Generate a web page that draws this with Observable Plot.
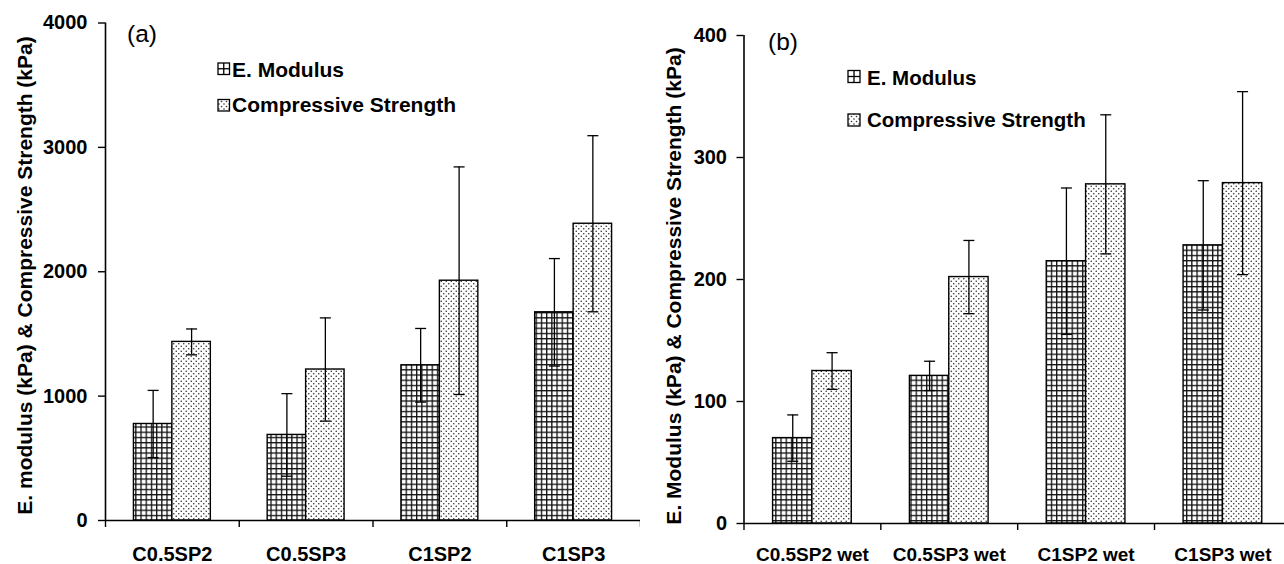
<!DOCTYPE html>
<html>
<head>
<meta charset="utf-8">
<script src="https://cdn.jsdelivr.net/npm/d3@7"></script>
<script src="https://cdn.jsdelivr.net/npm/@observablehq/plot@0.6"></script>
<style>
  html, body { margin: 0; padding: 0; background: #fff; }
  #wrap { position: relative; width: 1284px; height: 564px; overflow: hidden; background: #fff; }
  #wrap > svg.panel { position: absolute; top: 0; }
  #overlay { position: absolute; left: 0; top: 0; pointer-events: none; }
  #overlay text { font-family: "Liberation Sans", Arial, sans-serif; fill: #000; }
</style>
</head>
<body>
<div id="wrap"></div>
<script>
// ---------- data ----------
const categoriesA = ["C0.5SP2", "C0.5SP3", "C1SP2", "C1SP3"];
const eModulusA = [776, 688, 1248, 1674];
const eModulusSdA = [270, 332, 296, 432];
const compStrengthA = [1436, 1214, 1928, 2386];
const compStrengthSdA = [104, 415, 915, 708];
const yTicksA = [0, 1000, 2000, 3000, 4000];

const categoriesB = ["C0.5SP2 wet", "C0.5SP3 wet", "C1SP2 wet", "C1SP3 wet"];
const eModulusB = [70, 121, 215, 228];
const eModulusSdB = [19, 12, 60, 53];
const compStrengthB = [125, 202, 278, 279];
const compStrengthSdB = [15, 30, 57, 75];
const yTicksB = [0, 100, 200, 300, 400];

const seriesNames = ["E. Modulus", "Compressive Strength"];
const yTitleA = "E. modulus (kPa) & Compressive Strength (kPa)";
const yTitleB = "E. Modulus (kPa) & Compressive Strength (kPa)";

// ---------- helpers ----------
const FONT = "'Liberation Sans', Arial, Helvetica, sans-serif";
const wrap = document.getElementById("wrap");

function addPatterns(svg, id) {
  const defs = d3.select(svg).insert("defs", ":first-child");
  const g = defs.append("pattern").attr("id", "grid-" + id)
    .attr("patternUnits", "userSpaceOnUse").attr("width", 5.2).attr("height", 5.2);
  g.append("rect").attr("width", 5.2).attr("height", 5.2).attr("fill", "#fff");
  g.append("rect").attr("x", 0).attr("y", 0).attr("width", 1.3).attr("height", 5.2).attr("fill", "#111");
  g.append("rect").attr("x", 0).attr("y", 0).attr("width", 5.2).attr("height", 1.3).attr("fill", "#111");
  const p = defs.append("pattern").attr("id", "dots-" + id)
    .attr("patternUnits", "userSpaceOnUse").attr("width", 5).attr("height", 5);
  p.append("rect").attr("width", 5).attr("height", 5).attr("fill", "#fff");
  p.append("circle").attr("cx", 1.25).attr("cy", 1.25).attr("r", 0.8).attr("fill", "#333");
  p.append("circle").attr("cx", 3.75).attr("cy", 3.75).attr("r", 0.8).attr("fill", "#333");
}

const cap = { draw(ctx) { ctx.moveTo(-5.5, 0); ctx.lineTo(5.5, 0); } };

function panel(cfg) {
  const hw = 0.2875; // half of a group's width, in category units
  const rows = cfg.categories.flatMap((cat, i) => [
    { i, cat, series: seriesNames[0], value: cfg.e[i], sd: cfg.eSd[i], x1: i - hw, x2: i, xc: i - hw / 2 },
    { i, cat, series: seriesNames[1], value: cfg.c[i], sd: cfg.cSd[i], x1: i, x2: i + hw, xc: i + hw / 2 }
  ]);
  const eRows = rows.filter(d => d.series === seriesNames[0]);
  const cRows = rows.filter(d => d.series === seriesNames[1]);
  const idx = cfg.categories.map((_, i) => i);
  const bounds = cfg.categories.map((_, i) => i - 0.5).concat(cfg.xDomain[1] >= cfg.categories.length - 0.5 ? [cfg.categories.length - 0.5] : []);
  const svg = Plot.plot({
    width: cfg.width,
    height: 564,
    marginLeft: cfg.marginLeft,
    marginRight: 0,
    marginTop: cfg.marginTop,
    marginBottom: cfg.marginBottom,
    x: { type: "linear", domain: cfg.xDomain },
    y: { domain: [0, cfg.yTicks[cfg.yTicks.length - 1]] },
    style: { fontFamily: FONT, fontSize: "20px", fontWeight: "bold", color: "#000", background: "#fff", overflow: "visible" },
    marks: [
      Plot.rect(eRows, { x1: "x1", x2: "x2", y1: () => 0, y2: "value", fill: `url(#grid-${cfg.id})`, stroke: "#000", strokeWidth: 1.4 }),
      Plot.rect(cRows, { x1: "x1", x2: "x2", y1: () => 0, y2: "value", fill: `url(#dots-${cfg.id})`, stroke: "#000", strokeWidth: 1.4 }),
      Plot.ruleX(rows, { x: "xc", y1: d => d.value - d.sd, y2: d => d.value + d.sd, stroke: "#000", strokeWidth: 1.3 }),
      Plot.dot(rows, { x: "xc", y: d => d.value + d.sd, symbol: cap, r: 3, stroke: "#000", strokeWidth: 1.3, fill: "none" }),
      Plot.dot(rows, { x: "xc", y: d => d.value - d.sd, symbol: cap, r: 3, stroke: "#000", strokeWidth: 1.3, fill: "none" }),
      Plot.ruleY([0], { stroke: "#000", strokeWidth: 1.6 }),
      Plot.ruleX([cfg.xDomain[0]], { stroke: "#000", strokeWidth: 1.6 }),
      Plot.axisY({ ticks: cfg.yTicks, tickSize: 7, tickPadding: cfg.yPad, tickFormat: d => String(d), label: null, strokeWidth: 1.4, fontSize: 20 }),
      Plot.axisX({ ticks: idx, tickSize: 0, tickPadding: cfg.xPad, tickFormat: i => cfg.categories[i], label: null, fontSize: cfg.xFont }),
      Plot.axisX({ ticks: bounds, tickSize: 7, tickFormat: () => "", label: null, strokeWidth: 1.4 })
    ]
  });
  addPatterns(svg, cfg.id);
  svg.classList.add("panel");
  svg.style.left = cfg.left + "px";
  wrap.appendChild(svg);
}

panel({
  id: "a", left: 0, width: 640, marginLeft: 105, marginTop: 22.5, marginBottom: 44,
  xDomain: [-0.5, 3.5], categories: categoriesA, e: eModulusA, eSd: eModulusSdA,
  c: compStrengthA, cSd: compStrengthSdA, yTicks: yTicksA, yPad: 11, xPad: 26, xFont: 20
});
panel({
  id: "b", left: 640, width: 644, marginLeft: 103.5, marginTop: 35, marginBottom: 41,
  xDomain: [-0.5, 3.45], categories: categoriesB, e: eModulusB, eSd: eModulusSdB,
  c: compStrengthB, cSd: compStrengthSdB, yTicks: yTicksB, yPad: 10, xPad: 24, xFont: 19
});

// ---------- overlay: panel letters, in-plot legends, rotated y titles ----------
const ov = d3.select(wrap).append("svg").attr("id", "overlay").attr("width", 1284).attr("height", 564);
const defs = ov.append("defs");
const gp = defs.append("pattern").attr("id", "dots-legend").attr("patternUnits", "userSpaceOnUse").attr("width", 5).attr("height", 5);
gp.append("rect").attr("width", 5).attr("height", 5).attr("fill", "#fff");
gp.append("circle").attr("cx", 1.5).attr("cy", 1.5).attr("r", 0.8).attr("fill", "#333");
gp.append("circle").attr("cx", 4).attr("cy", 4).attr("r", 0.8).attr("fill", "#333");

function legend(x, y1, y2, size, tx, fs) {
  // grid swatch
  ov.append("rect").attr("x", x).attr("y", y1).attr("width", size).attr("height", size).attr("fill", "#fff").attr("stroke", "#000").attr("stroke-width", 1.3);
  ov.append("line").attr("x1", x + size / 2).attr("x2", x + size / 2).attr("y1", y1).attr("y2", y1 + size).attr("stroke", "#000").attr("stroke-width", 1.3);
  ov.append("line").attr("x1", x).attr("x2", x + size).attr("y1", y1 + size / 2).attr("y2", y1 + size / 2).attr("stroke", "#000").attr("stroke-width", 1.3);
  ov.append("text").attr("x", tx).attr("y", y1 + size + 2).attr("font-size", fs).attr("font-weight", "bold").text(seriesNames[0]);
  // dotted swatch
  ov.append("rect").attr("x", x).attr("y", y2).attr("width", size).attr("height", size).attr("fill", "url(#dots-legend)").attr("stroke", "#000").attr("stroke-width", 1.3);
  ov.append("text").attr("x", tx).attr("y", y2 + size + 1).attr("font-size", fs).attr("font-weight", "bold").text(seriesNames[1]);
}
legend(218, 63, 99.5, 11.5, 232, 21);
legend(848, 70.5, 114, 12, 867, 20.5);

ov.append("text").attr("x", 127).attr("y", 42).attr("font-size", 24.5).text("(a)");
ov.append("text").attr("x", 768).attr("y", 50).attr("font-size", 24.5).text("(b)");

ov.append("text").attr("transform", "translate(32,275.5) rotate(-90)").attr("text-anchor", "middle")
  .attr("font-size", 21).attr("font-weight", "bold").text(yTitleA);
ov.append("text").attr("transform", "translate(681,286) rotate(-90)").attr("text-anchor", "middle")
  .attr("font-size", 21).attr("font-weight", "bold").text(yTitleB);
</script>
</body>
</html>
